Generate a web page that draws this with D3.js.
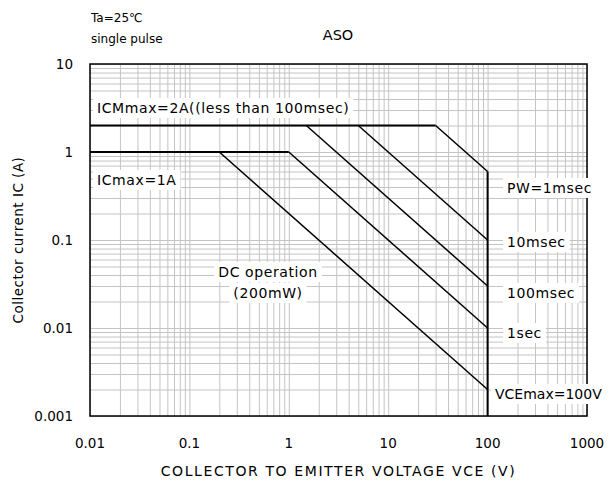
<!DOCTYPE html>
<html>
<head>
<meta charset="utf-8">
<script src="https://cdn.jsdelivr.net/npm/d3@7"></script>
<style>
  body { margin: 0; background: #fff; }
  svg { display: block; }
  text { font-family: "DejaVu Sans", "Noto Sans", sans-serif; fill: #000; }
</style>
</head>
<body>
<div id="chart"></div>
<script>
// Safe operating area (ASO) data
const xTicks = [0.01, 0.1, 1, 10, 100, 1000];
const yTicks = [0.001, 0.01, 0.1, 1, 10];

// pulse-width curves: knee point on the current limit, end point at VCEmax
const curveNames = ['PW=1msec', '10msec', '100msec', '1sec', 'DC'];
const kneeV = [30, 5, 1.5, 1, 0.2];
const kneeI = [2, 2, 2, 1, 1];
const endV = [100, 100, 100, 100, 100];
const endI = [0.6, 0.1, 0.03, 0.01, 0.002];

// limit lines
const icmLine = [[0.01, 2], [30, 2]];
const icLine = [[0.01, 1], [1, 1]];
const vceLine = [[100, 0.6], [100, 0.001]];

const W = 609, H = 486;
const margin = {top: 64, right: 22, bottom: 70, left: 90};
const width = W - margin.left - margin.right;
const height = H - margin.top - margin.bottom;

const svg = d3.select('#chart').append('svg')
    .attr('width', W)
    .attr('height', H);

const g = svg.append('g')
    .attr('transform', `translate(${margin.left},${margin.top})`);

const x = d3.scaleLog().domain([0.01, 1000]).range([0, width]);
const y = d3.scaleLog().domain([0.001, 10]).range([height, 0]);

// grid: every 1..9 step of each decade
const xGrid = [];
for (let i = 0; i < xTicks.length - 1; i++) {
    for (let k = 2; k <= 9; k++) xGrid.push(xTicks[i] * k);
}
const yGrid = [];
for (let i = 0; i < yTicks.length - 1; i++) {
    for (let k = 2; k <= 9; k++) yGrid.push(yTicks[i] * k);
}

g.append('g')
    .call(d3.axisBottom(x).tickValues(xGrid.concat(xTicks)).tickSize(-height).tickFormat(''))
    .attr('transform', `translate(0,${height})`)
    .call(a => a.select('.domain').remove())
    .call(a => a.selectAll('line').attr('stroke', '#c4c4c4').attr('stroke-width', 1));

g.append('g')
    .call(d3.axisLeft(y).tickValues(yGrid.concat(yTicks)).tickSize(-width).tickFormat(''))
    .call(a => a.select('.domain').remove())
    .call(a => a.selectAll('line').attr('stroke', '#c4c4c4').attr('stroke-width', 1));

// tick labels
g.selectAll('text.xt')
    .data(xTicks)
  .enter().append('text')
    .attr('class', 'xt')
    .attr('x', d => x(d))
    .attr('y', height + 32)
    .attr('text-anchor', 'middle')
    .style('font-size', '13.5px')
    .text(d => d);

g.selectAll('text.yt')
    .data(yTicks)
  .enter().append('text')
    .attr('class', 'yt')
    .attr('x', -17)
    .attr('y', d => y(d) + 5)
    .attr('text-anchor', 'end')
    .style('font-size', '13.5px')
    .text(d => d);

// curves
const line = d3.line().x(d => x(d[0])).y(d => y(d[1]));

curveNames.forEach((name, i) => {
    g.append('path')
        .attr('d', line([[kneeV[i], kneeI[i]], [endV[i], endI[i]]]))
        .attr('fill', 'none')
        .attr('stroke', '#000')
        .attr('stroke-width', 1.5);
});

[icmLine, icLine, vceLine].forEach(pts => {
    g.append('path')
        .attr('d', line(pts))
        .attr('fill', 'none')
        .attr('stroke', '#000')
        .attr('stroke-width', 2);
});

// plot frame
g.append('rect')
    .attr('width', width)
    .attr('height', height)
    .attr('fill', 'none')
    .attr('stroke', '#000')
    .attr('stroke-width', 1.5);

// labels with white boxes
function boxLabel(tx, ty, str, anchor, spacing) {
    const t = svg.append('text')
        .attr('x', tx)
        .attr('y', ty)
        .attr('text-anchor', anchor || 'start')
        .style('font-size', '14px')
        .style('letter-spacing', (spacing == null ? 0.6 : spacing) + 'px')
        .text(str);
    const b = t.node().getBBox();
    svg.insert('rect', () => t.node())
        .attr('x', b.x - 4)
        .attr('y', b.y - 2)
        .attr('width', b.width + 8)
        .attr('height', b.height + 4)
        .attr('fill', '#fff');
}

boxLabel(97, 113, 'ICMmax=2A((less than 100msec)');
boxLabel(97, 185, 'ICmax=1A');
boxLabel(507, 193, 'PW=1msec');
boxLabel(507, 247, '10msec');
boxLabel(507, 298, '100msec');
boxLabel(507, 338, '1sec');
boxLabel(495, 399, 'VCEmax=100V', 'start', 0);
boxLabel(268, 277, 'DC operation', 'middle');
boxLabel(268, 298, '(200mW)', 'middle');

// titles
svg.append('text')
    .attr('x', 91).attr('y', 22)
    .style('font-size', '12px')
    .text('Ta=25℃');
svg.append('text')
    .attr('x', 91).attr('y', 43)
    .style('font-size', '12px')
    .text('single pulse');
svg.append('text')
    .attr('x', 338).attr('y', 40)
    .attr('text-anchor', 'middle')
    .style('font-size', '14.5px')
    .text('ASO');
svg.append('text')
    .attr('x', margin.left + width / 2).attr('y', 476)
    .attr('text-anchor', 'middle')
    .style('font-size', '14px')
    .style('letter-spacing', '1.6px')
    .text('COLLECTOR TO EMITTER VOLTAGE VCE (V)');
svg.append('text')
    .attr('transform', `translate(23,${margin.top + height / 2}) rotate(-90)`)
    .attr('text-anchor', 'middle')
    .style('font-size', '13.5px')
    .style('letter-spacing', '0.5px')
    .text('Collector current IC (A)');
</script>
</body>
</html>
